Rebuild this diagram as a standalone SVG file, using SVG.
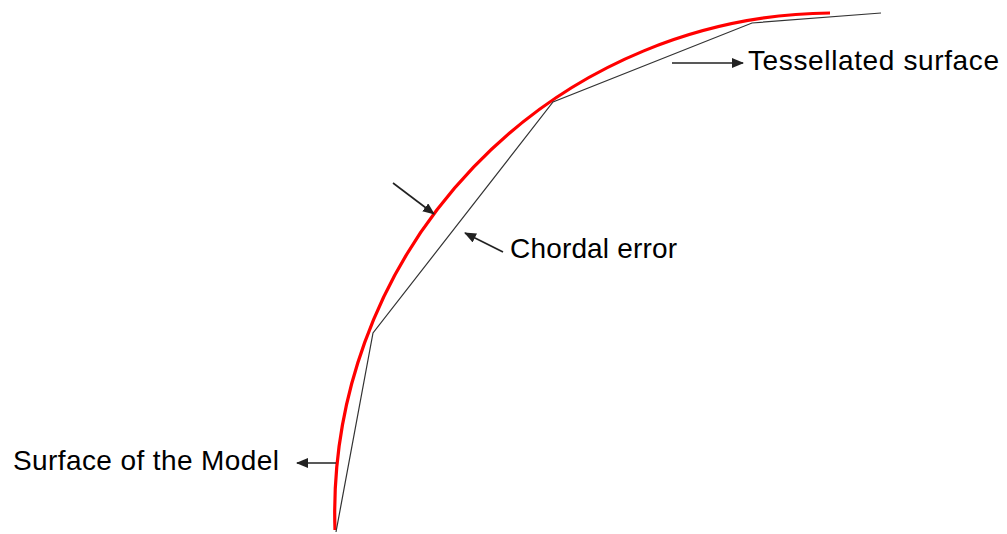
<svg xmlns="http://www.w3.org/2000/svg" width="1007" height="534" viewBox="0 0 1007 534">
<style>
.lbl{font-family:"Liberation Sans",Arial,sans-serif;font-size:28px;fill:#000}
.arr{stroke:#222;stroke-width:1.6;fill:none;marker-end:url(#ah)}
</style>
<defs>
<marker id="ah" markerWidth="12" markerHeight="10" refX="11" refY="5" orient="auto" markerUnits="userSpaceOnUse">
<path d="M0,0 L12,5 L0,10 Z" fill="#222"/>
</marker>
</defs>
<rect width="1007" height="534" fill="#fff"/>
<g id="model-surface">
<path d="M335,530 A500,500 0 0 1 830,13" fill="none" stroke="#f00" stroke-width="3.2"/>
</g>
<g id="tessellated-surface">
<polyline points="336,532 373,333 553,102 752,23 881,13" fill="none" stroke="#333" stroke-width="1.2"/>
</g>
<g id="connectors">
<line class="arr" x1="672" y1="63" x2="743" y2="63"/>
<line class="arr" x1="503" y1="252" x2="465" y2="233"/>
<line class="arr" x1="393" y1="183" x2="434" y2="214"/>
<line class="arr" x1="336" y1="463" x2="297" y2="463"/>
</g>
<g id="label-tessellated"><text class="lbl" x="748" y="70" textLength="251">Tessellated surface</text></g>
<g id="label-chordal"><text class="lbl" x="510" y="258" textLength="167">Chordal error</text></g>
<g id="label-model"><text class="lbl" x="13" y="470" textLength="266">Surface of the Model</text></g>
</svg>
